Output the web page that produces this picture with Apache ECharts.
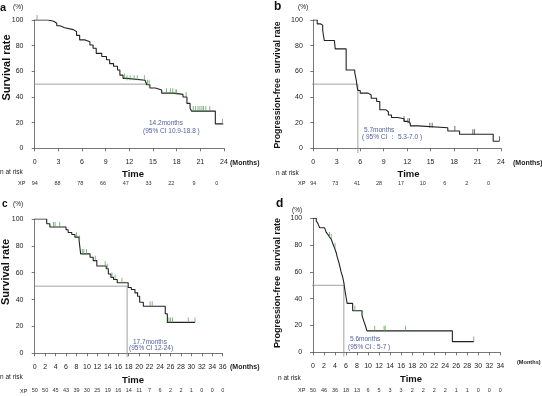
<!DOCTYPE html>
<html>
<head>
<meta charset="utf-8">
<script src="https://cdn.jsdelivr.net/npm/echarts@6/dist/echarts.min.js"></script>
<style>
  html, body { margin: 0; padding: 0; background: #fff; }
  #chart { width: 542px; height: 396px; }
</style>
</head>
<body>
<div id="chart"></div>
<script>
// ---- data (months, survival %) ----
const aTime = [0, 1.7, 2.4, 2.8, 3.2, 3.8, 4.9, 5.3, 5.7, 6.4, 7.0, 7.4, 7.8, 8.5, 9.1, 9.5, 10.0, 10.5, 10.8, 11.2, 11.7, 14.0, 14.2, 14.6, 15.3, 16.1, 17.6, 18.8, 19.3, 19.7, 19.9, 22.9, 23.9];
const aSurv = [100, 99, 97.5, 95.5, 94, 92.5, 91, 88, 84.5, 83, 80.5, 78, 74, 71.5, 69, 66, 64, 61, 57, 54.5, 53, 52, 49.5, 47, 45.5, 43, 42, 40, 35, 31, 29, 19, 19];
const aCens = [0.3, 11.4, 11.7, 12.1, 12.6, 13.0, 13.9, 14.3, 14.5, 16.7, 17.2, 17.5, 17.9, 18.0, 19.2, 20.1, 20.4, 20.7, 20.95, 21.2, 21.4, 21.7, 22.2, 23.8];
const aRisk = [94, 88, 78, 66, 47, 33, 22, 9, 0];
const aMedian = 14.2;
const aNote = ['14.2months', '(95% CI 10.9-18.8 )'];

const bTime = [0, 0.5, 0.9, 1.2, 1.4, 2.7, 2.8, 4.2, 5.3, 5.5, 5.6, 5.7, 6.0, 7.0, 7.4, 8.1, 8.5, 9.3, 9.6, 10.0, 10.8, 11.6, 12.1, 12.4, 13.4, 17.2, 18.7, 23.0, 23.8];
const bSurv = [100, 97, 96, 92, 84, 83, 77.5, 61, 59, 53, 48, 45, 43, 41.5, 39, 36.5, 30, 28.5, 26, 24, 23, 21, 19.5, 17.5, 16, 13.5, 11, 5.5, 5.5];
const bCens = [11.6, 12.1, 12.3, 14.9, 15.2, 18.1, 20.4, 20.6, 23.8];
const bRisk = [94, 73, 41, 28, 17, 10, 6, 2, 0];
const bMedian = 5.7;
const bNote = ['5.7months', '( 95% CI \uff1a 5.3-7.0 )'];

const cTime = [0, 2.3, 2.9, 6.0, 6.4, 7.1, 7.7, 8.5, 8.8, 10.6, 11.2, 11.9, 13.7, 14.1, 14.6, 15.1, 15.8, 17.9, 18.5, 19.2, 19.7, 20.1, 20.8, 25.0, 25.4, 30.7];
const cSurv = [100, 96.5, 94, 92, 90, 88.5, 86.5, 84, 74, 71.5, 69, 65, 63, 59, 56.5, 55, 52.5, 49, 47.5, 45, 42.5, 38, 35, 29.5, 23, 23];
const cCens = [3.6, 3.9, 4.8, 8.0, 8.6, 9.1, 9.4, 9.9, 11.6, 13.5, 13.9, 14.8, 15.4, 16.7, 22.1, 22.5, 25.7, 26.0, 26.4, 29.4, 30.7];
const cRisk = [50, 50, 45, 43, 39, 30, 25, 19, 16, 14, 11, 7, 6, 2, 2, 1, 0, 0, 0];
const cMedian = 17.7;
const cNote = ['17.7months', '(95% CI 12-24)'];

const dTime = [0, 0.6, 0.9, 1.2, 2.1, 2.4, 2.7, 3.0, 3.3, 3.6, 3.9, 4.2, 4.4, 4.7, 4.9, 5.1, 5.4, 5.6, 5.75, 5.9, 6.2, 7.2, 8.9, 9.2, 9.5, 9.8, 25.3, 29.2];
const dSurv = [100, 98, 96, 93, 92, 89.5, 88, 86, 84.5, 81, 78, 74.5, 71, 67, 63.5, 60, 56, 52, 47.5, 43.5, 36.5, 31, 27.5, 23.5, 20, 16, 8, 8];
const dCens = [3.0, 3.3, 4.0, 7.6, 9.0, 11.2, 12.9, 13.1, 16.8, 29.2];
const dRisk = [50, 46, 36, 18, 13, 6, 5, 3, 3, 2, 2, 2, 2, 1, 1, 0, 0, 0];
const dMedian = 5.6;
const dNote = ['5.6months', '(95% CI : 5-7 )'];

const yTicks = [0, 20, 40, 60, 80, 100];

// ---- layout ----
const FONT = 'Liberation Sans, Arial, Helvetica, sans-serif';
const INK = '#222';
const AXIS = '#555';
const NOTE = '#4f5f9f';
const GREEN = '#4f9f4f';

const panels = [
  { letter: 'a', time: aTime, surv: aSurv, cens: aCens, risk: aRisk, median: aMedian, note: aNote,
    xMax: 24, step: 3, riskMax: 24.96, vLine: false, censColor: GREEN,
    left: 34.7, top: 20, width: 189.3, height: 128.3, yOff: 3.7, xOff: 4.4, riskY: 183.3,
    ylabel: 'Survival rate', ylabelPos: [7, 67.5], ylabelSize: 11,
    letterPos: [0, 8], letterSize: 11, pctPos: [13, 7], monthsPos: [230, 163], monthsSize: 7, timePos: [133, 174],
    nrPos: [0, 172.5], xpPos: [18, 183.5], notePos: [[149, 123], [143, 131]] },
  { letter: 'b', time: bTime, surv: bSurv, cens: bCens, risk: bRisk, median: bMedian, note: bNote,
    xMax: 24, step: 3, riskMax: 25.7, vLine: true, censColor: '#333',
    left: 313.3, top: 20, width: 187.7, height: 128.3, yOff: 3, xOff: 4.7, riskY: 183,
    ylabel: 'Progression-free  survival rate', ylabelPos: [278, 85], ylabelSize: 8.8,
    letterPos: [274, 7], letterSize: 12, pctPos: [298, 7], monthsPos: [513, 163], monthsSize: 7, timePos: [408.5, 174],
    nrPos: [276, 173], xpPos: [298, 183.5], notePos: [[364, 130], [362, 137]] },
  { letter: 'c', time: cTime, surv: cSurv, cens: cCens, risk: cRisk, median: cMedian, note: cNote,
    xMax: 36, step: 2, riskMax: 36, vLine: true, censColor: GREEN,
    left: 34.7, top: 219, width: 188, height: 134.3, yOff: 3.7, xOff: 4, riskY: 390,
    ylabel: 'Survival rate', ylabelPos: [6, 272], ylabelSize: 11,
    letterPos: [2, 204], letterSize: 10, pctPos: [13, 204], monthsPos: [230, 367], monthsSize: 7, timePos: [133, 380],
    nrPos: [0, 377], xpPos: [20, 391], notePos: [[133, 342], [129, 348.5]] },
  { letter: 'd', time: dTime, surv: dSurv, cens: dCens, risk: dRisk, median: dMedian, note: dNote,
    xMax: 34, step: 2, riskMax: 34, vLine: true, censColor: GREEN,
    left: 313, top: 218.3, width: 187.3, height: 134, yOff: 3.3, xOff: 4.4, riskY: 390,
    ylabel: 'Progression-free  survival rate', ylabelPos: [278, 283], ylabelSize: 9,
    letterPos: [276, 204], letterSize: 12, pctPos: [292, 210.5], monthsPos: [517, 362], monthsSize: 5.6, timePos: [411, 379],
    nrPos: [278, 378], xpPos: [298, 390.5], notePos: [[350, 339], [348, 347]] }
];

function survAt(times, surv, t) {
  let v = surv[0];
  for (let i = 0; i < times.length; i++) if (times[i] <= t) v = surv[i];
  return v;
}

const grid = [], xAxis = [], yAxis = [], series = [], graphic = [];

function txt(x, y, s, size, opts) {
  opts = opts || {};
  graphic.push({
    type: 'text', x: x, y: y, rotation: opts.rotation || 0,
    style: { text: s, font: (opts.bold ? 'bold ' : '') + size + 'px ' + FONT,
      fill: opts.fill || INK, textAlign: opts.align || 'left', textVerticalAlign: 'middle' }
  });
}

panels.forEach((p, i) => {
  grid.push({ left: p.left, top: p.top, width: p.width, height: p.height });
  const axisStyle = { color: AXIS, width: 0.8 };
  xAxis.push({
    type: 'value', gridIndex: i, position: 'bottom', min: 0, max: p.xMax, interval: p.step, offset: p.xOff,
    axisLine: { show: true, lineStyle: axisStyle },
    axisTick: { show: true, length: 3, lineStyle: axisStyle },
    axisLabel: { fontSize: 7, fontFamily: FONT, color: '#222', margin: 6 },
    splitLine: { show: false }
  });
  // risk table row drawn as a label-only axis under the time axis
  xAxis.push({
    type: 'value', gridIndex: i, position: 'bottom', min: 0, max: p.riskMax, interval: p.step,
    offset: p.riskY - 3 - 2 - (p.top + p.height),
    axisLine: { show: false }, axisTick: { show: false }, splitLine: { show: false },
    axisLabel: {
      fontSize: 5.5, fontFamily: FONT, color: '#333', margin: 2,
      formatter: v => {
        const k = v / p.step;
        if (Math.abs(k - Math.round(k)) > 1e-6) return '';
        const r = p.risk[Math.round(k)];
        return r === undefined ? '' : String(r);
      }
    }
  });
  yAxis.push({
    type: 'value', gridIndex: i, min: yTicks[0], max: yTicks[yTicks.length - 1], interval: 20, offset: p.yOff,
    axisLine: { show: true, lineStyle: axisStyle },
    axisTick: { show: true, length: 3, lineStyle: axisStyle },
    axisLabel: { fontSize: 7, fontFamily: FONT, color: '#222', margin: 7.5 },
    splitLine: { show: false }
  });

  // median reference lines reach back to the detached axis lines
  const xLeft = -p.yOff / (p.width / p.xMax);
  const yBottom = -p.xOff / (p.height / 100);
  const med = [[xLeft, 50], [p.median, 50]];
  if (p.vLine) med.push([p.median, yBottom]);
  series.push({
    type: 'line', xAxisIndex: 2 * i, yAxisIndex: i, data: med, symbol: 'none', clip: false,
    lineStyle: { color: '#8a8a8a', width: 0.8 }, silent: true, z: 1
  });

  series.push({
    type: 'line', xAxisIndex: 2 * i, yAxisIndex: i, step: 'end', symbol: 'none',
    data: p.time.map((t, k) => [t, p.surv[k]]),
    lineStyle: { color: INK, width: 1.1 }, silent: true, z: 3
  });

  series.push({
    type: 'scatter', xAxisIndex: 2 * i, yAxisIndex: i, symbol: 'rect', symbolSize: [0.9, 5],
    symbolOffset: [0, -2.5],
    data: p.cens.map(t => [t, survAt(p.time, p.surv, t)]),
    itemStyle: { color: p.censColor }, silent: true, z: 4
  });

  txt(p.letterPos[0], p.letterPos[1], p.letter, p.letterSize, { bold: true, fill: '#111' });
  txt(p.pctPos[0], p.pctPos[1], '(%)', 6.5);
  txt(p.ylabelPos[0], p.ylabelPos[1], p.ylabel, p.ylabelSize,
    { bold: true, fill: '#111', align: 'center', rotation: Math.PI / 2 });
  txt(p.monthsPos[0], p.monthsPos[1], '(Months)', p.monthsSize, { bold: true });
  txt(p.timePos[0], p.timePos[1], 'Time', 9.5, { bold: true, align: 'center', fill: '#111' });
  txt(p.nrPos[0], p.nrPos[1], 'n at risk', 6.5);
  txt(p.xpPos[0], p.xpPos[1], 'XP', 5.5);
  p.note.forEach((s, k) => txt(p.notePos[k][0], p.notePos[k][1], s, 6.5, { fill: NOTE }));
});

const chart = echarts.init(document.getElementById('chart'), null, { renderer: 'canvas' });
chart.setOption({
  backgroundColor: '#fff',
  animation: false,
  grid: grid,
  xAxis: xAxis,
  yAxis: yAxis,
  series: series,
  graphic: graphic
});
</script>
</body>
</html>
